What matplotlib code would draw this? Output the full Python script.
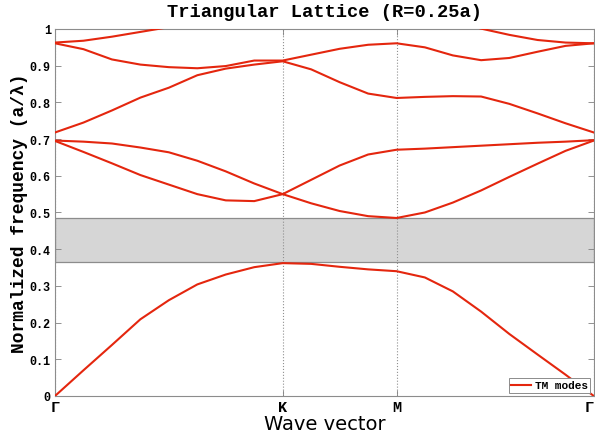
import matplotlib
matplotlib.use("Agg")
import matplotlib.pyplot as plt

# k-path Gamma -> K -> M -> Gamma (in units of |Gamma K|)
k_path = [0.0, 0.125, 0.25, 0.375, 0.5, 0.625, 0.75, 0.875, 1.0,
          1.125, 1.25, 1.375, 1.5,
          1.624, 1.747, 1.871, 1.995, 2.119, 2.242, 2.366]

k_ticks = [0.0, 1.0, 1.5, 2.366]
k_labels = ["Γ", "K", "M", "Γ"]

# TM bands (a/lambda)
band1 = [0.0, 0.070, 0.139, 0.209, 0.261, 0.304, 0.331, 0.351, 0.362,
         0.360, 0.352, 0.345, 0.340,
         0.323, 0.285, 0.230, 0.169, 0.113, 0.058, 0.0]
band2 = [0.695, 0.665, 0.634, 0.602, 0.576, 0.550, 0.533, 0.531, 0.550,
         0.525, 0.504, 0.490, 0.485,
         0.500, 0.527, 0.560, 0.597, 0.633, 0.668, 0.696]
band3 = [0.696, 0.693, 0.688, 0.677, 0.664, 0.641, 0.612, 0.579, 0.550,
         0.589, 0.628, 0.658, 0.671,
         0.674, 0.678, 0.682, 0.686, 0.690, 0.693, 0.697]
band4 = [0.718, 0.745, 0.778, 0.813, 0.840, 0.874, 0.892, 0.903, 0.912,
         0.890, 0.855, 0.824, 0.812,
         0.815, 0.817, 0.816, 0.796, 0.770, 0.743, 0.718]
band5 = [0.961, 0.945, 0.917, 0.903, 0.896, 0.893, 0.899, 0.914, 0.914,
         0.930, 0.946, 0.957, 0.961,
         0.950, 0.928, 0.915, 0.921, 0.938, 0.954, 0.961]
band6 = [0.963, 0.968, 0.979, 0.992, 1.005, 1.020, 1.035, 1.050, 1.060,
         1.070, 1.080, 1.080, 1.080,
         1.050, 1.025, 1.001, 0.984, 0.970, 0.963, 0.961]
bands = [band1, band2, band3, band4, band5, band6]

gap_low = 0.364
gap_high = 0.484

mono = "Liberation Mono"
red = "#e4260e"

fig = plt.figure(figsize=(5.95, 4.39), dpi=100)
ax = fig.add_axes([0.0924, 0.0957, 0.9056, 0.836])

ax.axhspan(gap_low, gap_high, facecolor="#d6d6d6", edgecolor="#8c8c8c",
           linewidth=0.9, zorder=1)

for i, b in enumerate(bands):
    ax.plot(k_path, b, color=red, linewidth=1.5, zorder=3,
            label="TM modes" if i == 0 else None)

ax.set_xlim(k_ticks[0], k_ticks[-1])
ax.set_ylim(0, 1)

ax.set_xticks(k_ticks)
ax.set_xticklabels(k_labels, fontfamily=mono, fontweight="bold", fontsize=11)
ax.get_xticklabels()[-1].set_horizontalalignment("right")
ax.set_yticks([i / 10 for i in range(11)])
ax.set_yticklabels(["0", "0.1", "0.2", "0.3", "0.4", "0.5", "0.6", "0.7",
                    "0.8", "0.9", "1"], fontfamily=mono, fontweight="bold",
                   fontsize=8.5)
ax.tick_params(direction="in", length=4, width=0.6, color="#808080",
               top=True, right=True, pad=3)
ax.xaxis.grid(True, linestyle=":", color="#909090", linewidth=0.8)

for sp in ax.spines.values():
    sp.set_color("#8c8c8c")
    sp.set_linewidth(0.8)

ax.set_title("Triangular Lattice (R=0.25a)", fontfamily=mono,
             fontweight="bold", fontsize=13.5, pad=9)
ax.set_ylabel("Normalized frequency (a/λ)", fontfamily=mono,
              fontweight="bold", fontsize=13, labelpad=1)
ax.set_xlabel("Wave vector", fontfamily="DejaVu Sans", fontsize=14,
              labelpad=0)

leg = ax.legend(loc="lower right", prop={"family": mono, "weight": "bold",
                                         "size": 8},
                fancybox=False, framealpha=1, edgecolor="#8c8c8c",
                borderpad=0.2, handlelength=1.8, handletextpad=0.4,
                borderaxespad=0.3)
leg.get_frame().set_linewidth(0.7)

fig.savefig("out.png", dpi=100)
